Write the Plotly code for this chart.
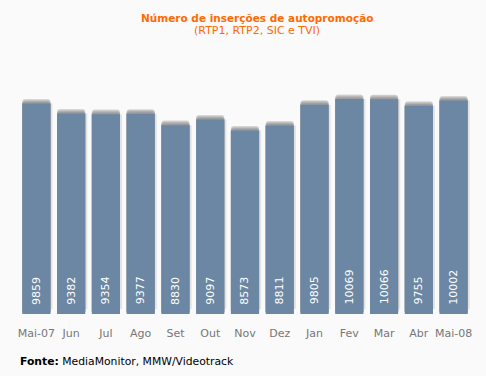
import plotly.graph_objects as go

months = ["Mai-07", "Jun", "Jul", "Ago", "Set", "Out", "Nov", "Dez", "Jan", "Fev", "Mar", "Abr", "Mai-08"]
values = [9859, 9382, 9354, 9377, 8830, 9097, 8573, 8811, 9805, 10069, 10066, 9755, 10002]

title = "Número de inserções de autopromoção"
subtitle = "(RTP1, RTP2, SIC e TVI)"
source_label = "Fonte:"
source_text = "MediaMonitor, MMW/Videotrack"

BASE = -160
W = 0.81
OFF = -0.405
FONT = "DejaVu Sans"

fig = go.Figure()

# right-side soft shadow
fig.add_trace(go.Bar(x=months, y=[v - 80 for v in values], base=80, width=W + 0.06, offset=OFF,
                     marker=dict(color="#e3e3e3", line=dict(width=0)), hoverinfo="skip"))
# cap gradient layers (top lighter -> bottom darker)
for extra, col in [(215, "#d6d6d6"), (170, "#c2c2c2"), (120, "#adadad"), (70, "#9c9c9c")]:
    fig.add_trace(go.Bar(x=months, y=[v + extra - BASE for v in values], base=BASE, width=W, offset=OFF,
                         marker=dict(color=col, line=dict(width=0), cornerradius=3), hoverinfo="skip"))
# main bars
fig.add_trace(go.Bar(x=months, y=[v - BASE for v in values], base=BASE, width=W, offset=OFF,
                     marker=dict(color="#6b87a3", line=dict(width=0))))

annotations = []
for m, v in zip(months, values):
    annotations.append(dict(x=m, y=0, xref="x", yref="y", text=str(v), showarrow=False,
                            textangle=-90, yanchor="bottom", xanchor="center", yshift=4,
                            font=dict(family=FONT, size=11, color="white")))

annotations.append(dict(x=0.5265, y=1.121, xref="paper", yref="paper", showarrow=False,
                        text="<b>" + title + "</b>", xanchor="center", yanchor="middle",
                        font=dict(family=FONT, size=10.5, color="#ff6a00")))
annotations.append(dict(x=0.5265, y=1.072, xref="paper", yref="paper", showarrow=False,
                        text=subtitle, xanchor="center", yanchor="middle",
                        font=dict(family=FONT, size=11, color="#ff6a00")))
annotations.append(dict(x=-0.002, y=-0.1818, xref="paper", yref="paper", showarrow=False,
                        text="<b>" + source_label + "</b> " + source_text, xanchor="left", yanchor="middle",
                        font=dict(family=FONT, size=10.8, color="#000000")))

fig.update_layout(
    width=486, height=376,
    margin=dict(l=19, r=15, t=50, b=62),
    paper_bgcolor="#fafafa", plot_bgcolor="#fafafa",
    barmode="overlay", showlegend=False,
    annotations=annotations,
    xaxis=dict(showgrid=False, zeroline=False, showline=False, ticks="outside", ticklen=9,
               tickcolor="rgba(0,0,0,0)", tickfont=dict(family=FONT, size=11, color="#777777"),
               range=[-0.5, 12.5]),
    yaxis=dict(range=[BASE, BASE + 264 * 47.6], showgrid=False, zeroline=False, showline=False,
               showticklabels=False),
)

fig.write_html("out.html", config={"displayModeBar": False},
               post_script="document.body.style.margin='0';document.body.style.background='#fafafa';document.body.style.overflow='hidden';")
